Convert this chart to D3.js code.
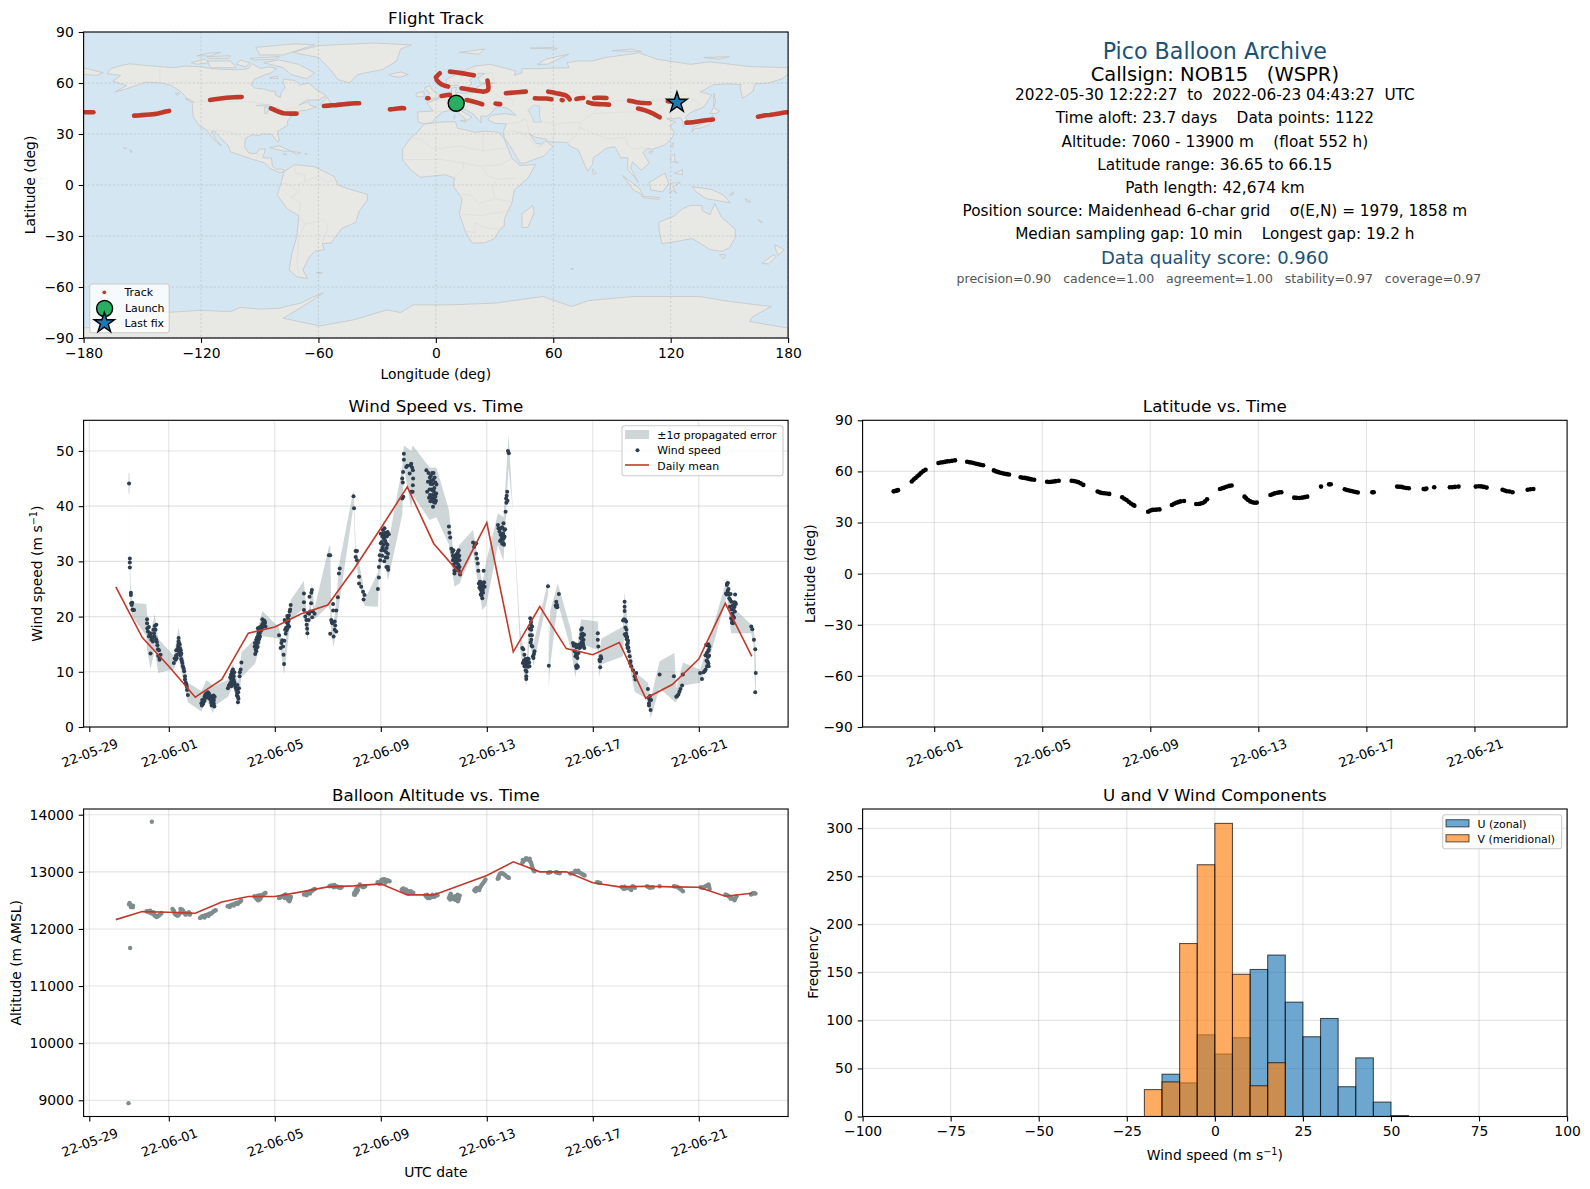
<!DOCTYPE html>
<html><head><meta charset="utf-8">
<script src="https://cdn.jsdelivr.net/npm/d3@7"></script>
<style>
html,body{margin:0;padding:0;background:#fff}
svg{display:block}
text{font-family:"DejaVu Sans",sans-serif;fill:#000;white-space:pre}
</style></head><body><div id="chart"></div>
<script>
// ---------- DATA ----------
const dateTickLabels = ["22-05-29","22-06-01","22-06-05","22-06-09","22-06-13","22-06-17","22-06-21"];
const lonTicks = [-180,-120,-60,0,60,120,180];
const latTicks = [-90,-60,-30,0,30,60,90];
const windTicks = [0,10,20,30,40,50];
const altTicks = [9000,10000,11000,12000,13000,14000];
const histXTicks = [-100,-75,-50,-25,0,25,50,75,100];
const histYTicks = [0,50,100,150,200,250,300];

const infoLines = [
 ["Pico Balloon Archive",22.2,"#1a5276",51,0],
 ["Callsign: NOB15   (WSPR)",19.5,"#000",73.5,0],
 ["2022-05-30 12:22:27  to  2022-06-23 04:43:27  UTC",15.3,"#000",94.5,0],
 ["Time aloft: 23.7 days    Data points: 1122",15.3,"#000",117.5,0],
 ["Altitude: 7060 - 13900 m    (float 552 h)",15.3,"#000",141,0],
 ["Latitude range: 36.65 to 66.15",15.3,"#000",164,0],
 ["Path length: 42,674 km",15.3,"#000",187,0],
 ["Position source: Maidenhead 6-char grid    σ(E,N) = 1979, 1858 m",15.3,"#000",210,0],
 ["Median sampling gap: 10 min    Longest gap: 19.2 h",15.3,"#000",233,0],
 ["Data quality score: 0.960",18,"#1a5276",257.5,0],
 ["precision=0.90   cadence=1.00   agreement=1.00   stability=0.97   coverage=0.97",12.5,"#555555",278,4]
];

// time values are days since 2022-05-29 00:00 UTC
const windPts = [
[1.50,44.1],[1.53,30.5],[1.53,29.8],[1.53,28.9],[1.57,24.3],[1.57,23.9],[1.58,22.4],[1.60,22.1],[1.62,22.5],[1.63,21.3],[1.65,21.2],[1.69,21.2],
[2.18,19.5],[2.18,18.8],[2.19,17.9],[2.25,18.1],[2.21,17.3],[2.30,17.0],[2.25,16.4],[2.34,15.8],[2.40,15.5],[2.31,13.3],[2.53,18.5],[2.47,18.3],[2.50,17.6],[2.44,17.0],[2.55,15.4],[2.59,14.1],[2.63,13.9],[2.60,12.9],[2.65,12.5],[2.69,13.1],[2.65,12.2],[2.28,16.8],[2.33,16.4],[2.37,16.0],[2.42,17.6],[2.46,16.4],[2.52,15.9],[2.57,14.8],
[3.19,11.6],[3.26,12.2],[3.31,13.1],[3.28,13.9],[3.35,14.5],[3.37,15.5],[3.37,16.1],[3.41,14.9],[3.45,13.9],[3.47,12.3],[3.51,11.6],[3.53,11.0],[3.58,10.1],[3.61,9.2],[3.61,8.6],[3.66,7.7],[3.69,6.7],[3.72,5.8],[3.33,14.0],[3.39,13.6],[3.43,14.2],[3.30,12.5],[3.49,12.0],[3.56,10.6],[3.64,8.0],[3.68,7.3],
[3.22,12.4],[3.27,12.9],[3.36,14.9],[3.40,15.1],[3.44,13.0],[3.47,13.3],
[4.23,4.3],[4.26,4.9],[4.35,5.5],[4.42,6.1],[4.52,6.0],[4.57,5.5],[4.64,4.9],[4.67,4.0],[4.73,5.5],[4.70,4.9],[4.29,4.7],[4.32,5.0],[4.38,5.9],[4.45,5.7],[4.48,6.3],[4.55,5.1],[4.60,4.4],[4.62,3.9],[4.66,5.3],[4.70,4.2],[4.72,3.7],[4.25,3.9],
[4.40,5.3],[4.50,5.3],[4.58,4.9],[4.30,4.2],[4.35,4.7],[4.63,5.6],[4.68,4.6],[4.69,5.7],
[5.23,7.0],[5.30,7.7],[5.36,8.6],[5.42,10.4],[5.45,9.2],[5.48,8.0],[5.55,6.7],[5.61,5.5],[5.65,7.0],[5.67,9.2],[5.71,10.4],[5.74,11.7],[5.27,7.5],[5.33,8.0],[5.39,9.1],[5.42,9.6],[5.44,8.6],[5.40,7.9],[5.36,7.4],[5.50,7.5],[5.58,6.2],[5.60,6.9],[5.63,5.1],[5.61,4.5],[5.68,9.9],
[5.32,9.0],[5.35,9.5],[5.38,10.0],[5.46,8.3],[5.47,9.9],[5.52,7.1],[5.57,5.7],[5.59,7.6],[5.62,6.3],
[6.26,13.2],[6.24,14.6],[6.30,15.8],[6.36,16.4],[6.43,17.0],[6.36,17.9],[6.49,18.2],[6.53,19.5],[6.62,18.8],[6.65,18.2],[6.28,14.1],[6.32,14.9],[6.34,15.5],[6.40,15.9],[6.38,16.9],[6.42,18.0],[6.47,17.4],[6.52,18.5],[6.56,18.9],[6.60,19.3],[6.30,13.7],[6.35,14.5],
[6.25,15.2],[6.29,14.4],[6.33,16.2],[6.37,15.3],[6.39,17.3],[6.41,16.2],[6.44,16.4],[6.46,18.0],[6.50,17.6],[6.55,18.1],[6.58,18.4],[6.63,19.0],
[7.16,16.6],[7.25,15.2],[7.22,14.3],[7.31,14.6],[7.33,13.1],[7.35,11.4],[7.41,16.9],[7.37,19.4],[7.50,18.5],[7.50,19.7],[7.56,20.9],[7.60,22.1],[7.28,15.7],[7.36,15.6],[7.43,18.0],[7.46,18.9],[7.53,20.2],[7.54,18.2],[7.58,21.3],[7.40,19.1],
[7.44,17.5],[7.47,17.8],[7.39,17.6],[7.47,20.1],[7.52,19.2],
[8.10,24.2],[8.10,22.6],[8.10,21.2],[8.19,19.4],[8.23,17.0],[8.25,20.6],[8.31,23.6],[8.40,24.8],[8.37,22.4],[8.44,20.9],[8.50,20.5],[8.15,20.0],[8.20,18.5],[8.22,17.8],[8.28,19.4],[8.30,20.5],[8.34,20.9],[8.38,24.3],[8.41,19.9],
[9.04,31.1],[9.09,31.1],[9.13,19.4],[9.17,18.8],[9.20,22.3],[9.20,21.1],[9.32,21.1],[9.26,19.1],[9.26,17.6],[9.09,16.9],[9.22,16.4],[9.32,17.3],[9.15,19.0],[9.28,18.4],
[9.38,23.5],[9.42,27.8],[9.45,28.7],[9.97,41.8],[9.99,39.6],[10.05,31.9],[10.10,31.9],[10.05,30.8],[10.10,30.2],[10.18,27.2],[10.18,26.0],[10.26,25.4],[10.33,24.5],[10.39,23.9],[10.35,23.1],
[10.89,25.0],[10.93,27.1],[10.93,29.0],[10.96,31.1],[11.02,32.0],[11.00,33.3],[11.08,35.7],[11.14,34.5],[11.20,33.3],[11.27,31.4],[11.27,29.0],[11.30,34.9],[11.04,33.5],[11.06,34.5],[11.10,33.0],[11.12,32.0],[11.14,36.0],[11.17,33.7],[11.20,31.7],[11.22,32.4],[11.24,30.7],[11.25,33.0],[11.28,28.5],[11.05,31.0],[11.10,35.0],
[10.98,30.2],[11.00,35.0],[11.07,32.5],[11.12,34.1],[11.15,35.0],[11.18,35.2],[11.18,30.7],[11.21,29.0],[11.23,34.5],[11.26,35.3],[11.13,30.0],
[11.81,41.4],[11.81,45.0],[11.84,46.2],[11.87,49.5],[11.87,48.4],[11.96,47.1],[12.00,47.3],[12.09,45.9],[12.15,47.7],[12.21,46.5],[12.21,43.8],[12.15,42.6],[11.83,44.3],[11.85,41.7],[12.18,47.0],[12.22,45.0],[12.12,47.4],[12.20,42.6],
[12.72,46.5],[12.78,44.4],[12.75,42.6],[12.85,45.2],[12.88,44.0],[12.92,43.0],[12.95,42.0],[12.98,44.8],[13.00,41.4],[13.02,43.3],[13.05,40.6],[13.07,42.2],[13.08,41.0],[13.10,43.9],[12.90,41.5],[12.94,46.0],[12.97,39.9],[13.03,45.2],[13.06,44.3],[12.84,43.0],[12.87,40.9],[13.00,42.7],
[12.80,46.0],[12.86,42.0],[12.89,45.5],[12.91,44.6],[12.93,41.0],[12.96,42.9],[12.99,46.0],[13.01,40.7],[13.04,42.0],[13.06,41.7],[13.09,42.3],[12.82,41.5],[12.86,44.5],[12.95,44.0],
[13.57,36.3],[13.59,35.2],[13.62,34.3],[13.66,32.3],[13.70,31.7],[13.72,30.2],[13.78,27.8],[13.91,31.7],[13.97,30.2],[13.97,29.0],[13.72,31.0],[13.75,29.4],[13.78,28.3],[13.80,30.0],[13.83,29.9],[13.86,30.6],[13.88,28.9],[13.90,30.3],[13.93,29.4],[13.95,28.3],[13.99,27.6],[13.76,30.6],
[13.74,32.0],[13.80,31.0],[13.82,28.9],[13.85,31.3],[13.87,29.7],[13.89,31.4],[13.92,30.8],[13.94,32.0],[13.96,31.0],[13.84,28.4],
[14.48,33.4],[14.60,33.3],[14.60,31.4],[14.66,29.6],[14.70,26.0],[14.79,24.8],[14.83,23.3],[14.92,25.4],[14.88,28.3],[14.52,32.6],[14.56,33.0],[14.63,30.5],[14.68,28.3],[14.72,25.2],[14.75,25.7],[14.77,24.0],[14.80,23.8],[14.85,24.8],[14.88,25.4],[14.90,26.2],[14.86,24.3],
[14.74,26.3],[14.76,25.0],[14.78,26.2],[14.81,24.5],[14.84,25.7],[14.87,26.0],[14.82,25.2],
[15.42,36.6],[15.48,35.4],[15.54,33.9],[15.63,36.9],[15.63,33.3],[15.67,34.5],[15.71,39.0],[15.73,41.4],[15.77,42.6],[15.80,50.0],[15.83,49.6],[15.50,33.7],[15.52,34.8],[15.57,34.4],[15.60,33.9],[15.62,35.0],[15.65,33.0],[15.69,35.8],[15.75,41.9],[15.78,41.0],[15.74,40.6],[15.44,36.0],
[15.53,36.0],[15.55,34.9],[15.58,33.2],[15.61,34.7],[15.64,34.2],[15.66,35.7],[15.58,36.2],
[16.34,14.3],[16.36,11.6],[16.42,13.1],[16.42,11.0],[16.49,9.2],[16.55,11.6],[16.61,11.0],[16.64,19.7],[16.68,17.6],[16.68,15.8],[16.74,12.8],[16.80,13.7],[16.38,14.1],[16.40,12.0],[16.44,11.7],[16.46,12.3],[16.47,10.3],[16.50,10.0],[16.52,11.0],[16.58,12.3],[16.62,17.8],[16.66,18.5],[16.70,16.6],[16.72,14.6],[16.76,12.5],[16.78,13.2],[16.49,8.7],
[16.41,11.9],[16.45,11.3],[16.48,11.9],[16.51,12.2],[16.54,12.4],[16.56,10.9],[16.60,11.7],[16.63,16.6],[16.65,15.3],[16.67,19.0],[16.71,18.2],[16.69,14.7],
[17.31,25.5],[17.34,11.1],[17.62,22.7],[17.62,21.8],[17.72,24.1],[17.65,22.1],[17.60,22.0],[17.66,21.7],
[18.25,15.2],[18.31,13.7],[18.37,11.0],[18.40,11.2],[18.56,17.6],[18.60,16.4],[18.63,15.2],[18.40,13.1],[18.68,14.3],[18.28,14.7],[18.34,15.0],[18.37,13.2],[18.44,10.9],[18.50,14.3],[18.52,15.0],[18.54,16.1],[18.58,15.4],[18.62,16.9],[18.65,15.8],[18.67,16.7],[18.47,14.9],
[18.30,14.9],[18.35,12.8],[18.38,14.4],[18.42,12.5],[18.46,13.4],[18.39,10.7],[18.55,14.5],[18.57,16.8],[18.61,15.9],[18.64,14.8],[18.59,17.9],
[19.19,17.0],[19.19,15.8],[19.21,14.6],[19.25,12.2],[19.28,10.8],[19.32,12.4],[19.27,11.9],[19.30,12.8],
[20.20,22.7],[20.20,21.8],[20.14,19.3],[20.26,19.1],[20.26,16.9],[20.32,15.2],[20.39,12.8],[20.45,11.0],[20.52,10.3],[20.61,8.6],[20.64,9.8],[20.18,19.5],[20.22,19.4],[20.20,21.0],[20.28,15.9],[20.30,16.3],[20.34,14.4],[20.36,13.7],[20.42,11.9],[20.21,16.8],[20.58,9.2],
[20.23,18.0],[20.24,16.5],[20.27,17.6],[20.29,14.9],[20.31,14.3],[20.33,15.6],[20.40,11.6],
[21.08,6.9],[21.12,4.3],[21.20,4.9],[21.18,3.1],[21.14,4.9],[21.10,5.3],[21.16,5.6],[21.12,3.9],
[21.52,9.5],[22.06,9.2],[22.15,5.5],[22.27,6.4],[22.40,9.5],[22.37,7.5],[22.19,5.6],[22.23,5.9],[22.31,6.9],
[23.05,9.8],[23.12,8.7],[23.22,10.1],[23.31,11.0],[23.38,14.0],[23.34,12.7],[23.28,14.9],[23.36,15.0],[23.40,14.6],[23.30,13.4],[23.33,11.9],[23.18,9.9],[23.26,10.4],[23.36,11.5],
[23.25,13.0],[23.29,12.0],[23.32,14.8],[23.35,13.7],[23.37,11.0],[23.39,12.9],
[24.07,26.0],[24.03,24.2],[24.14,24.0],[24.19,23.0],[24.22,19.7],[24.29,18.8],[24.35,21.8],[24.37,24.0],[24.05,24.0],[24.10,24.3],[24.17,21.8],[24.24,21.3],[24.27,20.5],[24.31,21.4],[24.33,19.8],[24.25,18.9],[24.40,22.3],[24.10,26.1],
[24.06,25.7],[24.09,24.7],[24.12,25.0],[24.15,23.3],[24.20,24.1],[24.23,22.7],[24.26,19.4],[24.28,22.0],[24.30,20.0],[24.34,22.6],[24.38,22.5],[24.36,20.9],
[24.98,18.2],[25.02,17.7],[25.08,15.8],[25.13,14.1],[25.15,9.8],[25.13,6.3]
];

const bandT  = [1.48,1.52,1.53,1.56,1.62,2.15,2.18,2.31,2.47,2.60,3.19,3.37,3.72,4.23,4.42,4.67,4.73,5.23,5.42,5.61,5.74,6.26,6.53,7.16,7.35,7.60,8.10,8.23,8.40,8.50,9.04,9.09,9.13,9.22,9.45,9.97,9.99,10.05,10.33,10.39,10.89,10.93,11.10,11.27,11.81,11.87,12.15,12.21,12.84,13.10,13.57,13.78,13.97,14.48,14.83,14.98,15.42,15.63,15.82,15.99,16.26,16.49,16.62,16.76,17.31,17.34,17.39,17.68,18.18,18.34,18.56,19.19,19.25,19.32,20.14,20.20,20.39,20.58,21.08,21.18,21.52,22.08,22.15,22.40,23.05,23.38,24.07,24.22,24.98,25.08,25.13,25.16];
const bandLo = [42,42.5,27,22,20,16.5,14,10.5,14,9.8,10.5,12.5,4.5,2.8,5,2.5,3.8,5.5,7.5,3.7,9,11.5,16.5,16,9.5,19.5,21.5,15.5,23,19.5,22,21,17,14.5,23,40,38,30,23,21.9,21.8,27,32,26.5,38.5,47,39.5,42,37.5,38,33,25.4,26,31.7,21.2,22,33,30,47,39,14,7.3,16,11,24,7,11,22.5,14,9,15,14,9,11.3,12.8,19,11,6.4,5,1.6,7,4.6,4.5,7.5,8,12,24,17,17,14.5,5,8.5];
const bandHi = [46,45.9,32,26,22.5,22.3,20.5,17,20.5,16,12.9,18,8,6.5,8.5,7.5,7.5,8.5,11.5,8,13.5,16,21,18,13.5,23,26.5,18.5,26,21.5,32.6,33,21,18,30,43,41,33,26,23,28,31,37.5,33,47,51,50,51,47,47,39.3,30,33,35.7,26,30,38.7,38,53,39,17.6,11,20.5,15,26.5,13,21,26,17.5,12.5,19.5,19.1,13,16,18.2,24.5,15,10,8,5,11.9,13.4,7,11.7,10.4,15.5,27,22,18.5,17.6,15,11];

const meanT = [1,2,3,4,5,6,7,8,9,10,11,12,13,14,15,16,17,18,19,20,21,22,23,24,25];
const windMean = [25.4,16.2,11,5.4,8.6,17,18.1,20.5,22.1,28.7,36,43.5,33.2,27.7,37,13.6,21.8,14.2,13.1,15.3,5.2,7.7,12.3,22.4,12.8];
const altMean = [12163,12304,12292,12274,12473,12567,12567,12649,12736,12754,12789,12596,12596,12766,12935,13175,13000,13000,12807,12736,12748,12736,12730,12573,12625];

const altPts = [
[1.48,8950],[1.54,11666],[2.36,13877],
[1.52,12456],[1.55,12426],[1.59,12397],[1.64,12380],[1.65,12409],[1.50,12430],[1.57,12385],[1.61,12400],
[2.16,12309],[2.24,12309],[2.33,12280],[2.41,12292],[2.50,12233],[2.58,12222],[2.67,12251],[2.72,12280],[2.20,12300],[2.28,12290],[2.37,12270],[2.45,12260],[2.54,12210],[2.62,12235],[2.70,12265],[2.46,12235],[2.30,12320],
[3.14,12350],[3.20,12309],[3.25,12251],[3.34,12233],[3.42,12280],[3.51,12339],[3.59,12280],[3.68,12268],[3.76,12292],[3.81,12268],[3.17,12330],[3.22,12270],[3.30,12240],[3.38,12250],[3.46,12310],[3.55,12310],[3.63,12250],[3.72,12280],[3.79,12250],[3.44,12350],[3.52,12290],
[4.18,12192],[4.26,12222],[4.35,12233],[4.43,12245],[4.52,12263],[4.60,12268],[4.69,12309],[4.77,12327],[4.22,12205],[4.30,12225],[4.39,12240],[4.47,12250],[4.56,12270],[4.65,12290],[4.73,12320],[4.35,12200],[4.50,12230],
[5.22,12397],[5.32,12409],[5.39,12426],[5.49,12438],[5.56,12456],[5.66,12467],[5.73,12497],[5.27,12400],[5.35,12420],[5.44,12430],[5.52,12445],[5.61,12460],[5.70,12480],[5.30,12385],[5.45,12410],[5.60,12435],
[6.23,12573],[6.30,12543],[6.37,12502],[6.45,12526],[6.50,12573],[6.57,12602],[6.65,12631],[6.26,12560],[6.33,12520],[6.41,12510],[6.47,12550],[6.53,12590],[6.61,12620],[6.35,12580],[6.44,12590],
[7.16,12543],[7.24,12561],[7.34,12584],[7.41,12602],[7.46,12543],[7.55,12485],[7.61,12561],[7.20,12550],[7.29,12570],[7.37,12595],[7.44,12570],[7.50,12510],[7.58,12520],[7.38,12540],[7.52,12560],
[8.10,12602],[8.19,12619],[8.27,12643],[8.36,12660],[8.42,12672],[8.51,12701],[8.14,12610],[8.23,12630],[8.31,12650],[8.39,12670],[8.47,12690],[8.20,12590],[8.33,12620],
[9.06,12748],[9.15,12760],[9.23,12731],[9.31,12748],[9.40,12731],[9.48,12719],[9.10,12755],[9.19,12745],[9.27,12740],[9.35,12740],[9.44,12725],[9.52,12730],[9.25,12770],
[9.99,12602],[10.04,12660],[10.11,12719],[10.21,12777],[10.27,12748],[10.34,12731],[10.41,12748],[10.00,12630],[10.07,12690],[10.16,12750],[10.24,12760],[10.31,12740],[10.37,12740],[10.03,12600],[10.09,12640],[10.14,12680],
[10.88,12818],[10.95,12789],[11.02,12853],[11.08,12865],[11.17,12807],[11.25,12853],[11.33,12836],[10.92,12805],[10.98,12820],[11.05,12860],[11.12,12840],[11.21,12830],[11.29,12845],[11.00,12790],[11.15,12870],
[11.79,12690],[11.89,12660],[11.97,12643],[12.06,12619],[12.13,12660],[12.23,12631],[11.84,12675],[11.93,12650],[12.01,12630],[12.10,12640],[12.18,12645],[11.85,12710],[11.95,12690],[12.02,12665],
[12.68,12590],[12.77,12543],[12.85,12543],[12.93,12573],[13.02,12561],[13.10,12602],[12.72,12565],[12.81,12540],[12.89,12560],[12.97,12565],[13.06,12580],[12.75,12600],[12.95,12600],[13.14,12590],
[13.57,12543],[13.64,12619],[13.74,12526],[13.81,12573],[13.91,12485],[13.98,12584],[13.60,12580],[13.69,12570],[13.78,12550],[13.86,12530],[13.95,12530],[13.62,12515],[13.80,12510],[13.90,12600],
[14.53,12678],[14.62,12719],[14.70,12707],[14.79,12760],[14.87,12807],[14.95,12865],[14.57,12700],[14.66,12710],[14.75,12730],[14.83,12785],[14.91,12835],[14.58,12660],[14.72,12680],
[15.41,12877],[15.48,12953],[15.56,12982],[15.66,12953],[15.76,12912],[15.83,12894],[15.44,12915],[15.52,12970],[15.61,12970],[15.71,12935],[15.80,12905],[15.45,12890],
[16.34,13158],[16.42,13204],[16.52,13228],[16.60,13204],[16.67,13158],[16.72,13070],[16.77,13023],[16.38,13180],[16.47,13215],[16.56,13220],[16.64,13180],[16.70,13115],[16.75,13045],[16.36,13210],[16.48,13240],[16.62,13230],[16.80,13010],
[17.31,12982],[17.40,12994],[17.61,12994],[17.68,12982],[17.35,12990],[17.65,12990],[17.75,12975],
[18.15,12970],[18.29,12982],[18.40,13011],[18.52,12982],[18.63,12953],[18.69,12935],[18.22,12975],[18.35,12995],[18.46,12995],[18.58,12965],[18.66,12945],[18.34,13020],[18.45,13020],
[19.16,12818],[19.28,12807],[19.22,12812],
[20.09,12736],[20.17,12701],[20.31,12719],[20.43,12707],[20.51,12748],[20.59,12719],[20.13,12720],[20.24,12710],[20.37,12712],[20.47,12730],[20.55,12735],[20.20,12740],[20.45,12680],
[21.05,12748],[21.15,12719],[21.27,12731],[21.52,12748],[21.10,12735],[21.21,12725],
[22.06,12748],[22.19,12736],[22.28,12707],[22.40,12660],[22.12,12745],[22.24,12720],[22.34,12685],
[23.07,12731],[23.17,12719],[23.25,12748],[23.37,12777],[23.41,12701],[23.12,12725],[23.21,12735],[23.31,12760],[23.39,12740],
[24.01,12602],[24.13,12573],[24.25,12543],[24.35,12502],[24.42,12573],[24.07,12590],[24.19,12560],[24.30,12525],[24.38,12535],[24.20,12530],
[24.97,12602],[25.06,12631],[25.14,12619],[25.02,12615],[25.10,12625]
];

const latPts = [
[1.50,48.3],[1.55,48.5],[1.60,48.7],[1.66,49.0],
[2.17,54.1],[2.24,55.2],[2.31,56.1],[2.38,57.2],[2.45,58.1],[2.52,59.2],[2.60,60.2],[2.68,61.0],
[3.16,64.9],[3.24,65.2],[3.32,65.4],[3.40,65.6],[3.48,65.9],[3.56,66.0],[3.66,66.2],[3.77,66.5],
[4.22,65.7],[4.30,65.4],[4.38,65.2],[4.46,64.9],[4.55,64.5],[4.63,64.2],[4.72,63.9],[4.81,63.6],
[5.21,60.6],[5.29,60.0],[5.37,59.6],[5.45,59.2],[5.53,58.9],[5.61,58.6],[5.69,58.4],[5.77,58.2],
[6.20,56.6],[6.28,56.3],[6.36,56.2],[6.44,55.9],[6.52,55.6],[6.60,55.3],[6.70,55.1],
[7.18,53.9],[7.26,53.8],[7.34,53.9],[7.42,54.1],[7.50,54.3],[7.61,54.5],
[8.09,54.5],[8.17,54.4],[8.25,54.1],[8.33,53.7],[8.42,53.0],[8.52,52.1],
[9.05,48.2],[9.13,47.7],[9.21,47.3],[9.29,47.2],[9.38,47.0],[9.48,46.8],
[9.96,44.8],[10.04,44.0],[10.12,43.2],[10.20,42.2],[10.28,41.2],[10.36,40.4],[10.41,39.9],
[10.92,36.3],[11.00,37.0],[11.08,37.4],[11.16,37.5],[11.24,37.6],[11.34,37.7],
[11.80,40.3],[11.88,41.0],[11.96,41.6],[12.04,42.0],[12.12,42.4],[12.25,42.6],
[12.70,40.9],[12.78,40.9],[12.86,41.1],[12.94,41.5],[13.02,42.3],[13.10,43.6],
[13.58,49.7],[13.66,50.1],[13.74,50.5],[13.82,51.0],[13.92,51.5],[14.01,51.7],
[14.49,45.2],[14.55,44.2],[14.62,43.2],[14.70,42.4],[14.78,41.9],[14.86,41.6],[14.94,41.7],
[15.45,46.2],[15.52,46.6],[15.60,47.1],[15.70,47.5],[15.78,47.7],[15.85,47.8],
[16.33,44.6],[16.42,44.5],[16.52,44.4],[16.62,44.6],[16.72,44.9],[16.81,45.2],
[17.32,51.1],[17.62,52.4],[17.68,52.5],
[18.20,49.5],[18.28,49.1],[18.36,48.8],[18.44,48.5],[18.52,48.2],[18.60,47.9],[18.68,47.6],
[19.22,47.8],[19.27,47.8],
[20.14,51.1],[20.22,51.0],[20.30,50.9],[20.38,50.6],[20.48,50.3],[20.57,50.1],
[21.12,49.7],[21.17,49.6],[21.22,50.0],[21.51,50.7],
[22.09,50.7],[22.18,50.7],[22.28,50.9],[22.41,51.1],
[23.05,51.1],[23.15,51.3],[23.25,51.2],[23.35,50.9],[23.45,50.5],
[24.04,49.2],[24.12,48.8],[24.20,48.4],[24.30,48.2],[24.41,47.8],
[24.97,49.2],[25.07,49.5],[25.18,49.7]
];

const trackSegments = [
[[-179.2,42.8],[-177.5,42.8],[-175,42.8]],
[[-154.2,40.8],[-152,40.9],[-150,41.1],[-148,41.3],[-146,41.5],[-144,41.7],[-142,42.1],[-140,42.6],[-138,43.2],[-136.3,43.6]],
[[-115.4,50],[-113,50.4],[-111,50.7],[-109,51],[-107,51.3],[-105,51.5],[-103,51.6],[-101,51.7],[-99.2,51.8]],
[[-84.3,45.1],[-82.5,44.2],[-81,43.4],[-79.5,42.8],[-78,42.2],[-76,42.1],[-74,42],[-71.2,42]],
[[-57.2,46.5],[-55,46.7],[-53,46.9],[-51,47],[-49,47.3],[-47,47.5],[-45,47.7],[-43,47.9],[-41,48.1],[-39.2,48.1]],
[[-23.5,44.5],[-21.5,44.7],[-19.5,45],[-17.5,45.2],[-16.2,45.1]],
[[-4.4,51],[-3.8,51]],
[[2.9,52.4],[4.5,52.7],[6,52.9],[7.2,53]],
[[0,63.3],[1,64.6],[2,65.7]],
[[0.4,61.8],[1.5,60.4],[2.9,59.2],[4.5,58.4],[6.3,57.9]],
[[7.2,66.7],[9,66.5],[11,66.2],[13,65.8],[15,65.4],[17,65],[19.4,64.5]],
[[13.1,56.9],[15,56.6],[17,56.2],[19,55.8],[21,55.4],[23,55.1],[24.2,54.9],[25.8,55.3],[26.7,55.9],[26.9,57.5],[26.7,59.5],[26.4,61.4]],
[[15.7,50],[17.5,49.6],[19.5,49],[21.5,48.3],[23.7,47.5]],
[[30.5,47.9],[31.5,47.7],[32.9,47.6]],
[[35.8,54],[38,54.2],[40,54.4],[42,54.6],[44,54.8],[46,54.9]],
[[50.6,51],[52.5,50.9],[54.5,50.9],[56.5,50.9],[59.1,50.4]],
[[57.4,54.9],[59.5,54.5],[61.5,54],[63.5,53.6],[65.9,53],[67.5,51.8],[68.4,50.4]],
[[64.3,50],[64.8,49.9]],
[[71.8,50.6],[73.5,51],[75.3,51.2]],
[[77.8,48.6],[79.5,48],[81.5,47.7],[83.5,47.6],[85.5,47.5],[88.5,47.3]],
[[80.9,51.2],[82.5,51.3],[84.5,51.3],[87.2,51.2]],
[[98.7,49.6],[100.5,49.2],[102.5,48.7],[104.5,48.4],[106.5,48.2],[109.3,48.1]],
[[103.3,45],[105,44.6],[107,43.9],[109,43],[111,42],[112.5,41],[114.4,39.8]],
[[118.5,49.3],[120,49.2],[121.5,49]],
[[128,36.7],[130,36.8],[132,37],[134,37.4],[136,37.8],[138,38.1],[141.6,38.5]],
[[164.6,40.2],[166.5,40.6],[168.5,41],[170.5,41.2],[173,41.6],[175.5,42.1],[178,42.6],[180,42.8]]
];
const launch = [10.4,48.1];
const lastFix = [123.2,49];

const binEdges = [-20,-15,-10,-5,0,5,10,15,20,25,30,35,40,45,50,55];
const uCounts = [0,44,35,85,65,82,153,168,119,83,102,31,61,15,1];
const vCounts = [28,36,180,262,305,148,32,56,0,0,0,0,0,0,0];

// Map outlines, [lon,lat]
const landPolys = [
[[-166,68.5],[-162,70],[-156.5,71.3],[-150,70.5],[-141,69.7],[-134,69],[-128,70],[-120,69.5],[-115,68.5],[-108,68],[-102,67.8],[-96,68.3],[-94,71.5],[-90,68.5],[-85,69.5],[-81.5,68.5],[-84,66],[-87,65],[-93,62],[-94.5,59],[-92.5,57],[-88,56.5],[-85,55.3],[-82,55],[-82,53],[-79.5,51.5],[-79,54.5],[-77,57],[-78,60],[-78,62.3],[-72,61.5],[-69.5,58.8],[-65,60],[-61.5,56.5],[-56,52.5],[-60,50],[-66,50],[-70,47],[-65,49],[-64.5,47],[-61,46],[-66,44],[-70,43.5],[-70,41.7],[-74,40.5],[-76,37],[-75.5,35.3],[-81,31.5],[-80,26],[-81,25.2],[-82.7,28],[-84,30],[-89,30],[-90,29.2],[-94,29.5],[-97.3,27.5],[-97.8,22.5],[-95.5,18.7],[-91.5,18.5],[-90.5,21],[-87,21.3],[-88.5,16],[-84,15.8],[-83.5,11],[-81,9],[-79.5,9.5],[-77.3,8.7],[-78.3,7.5],[-80.5,7.5],[-85,10],[-87.5,13],[-92,14.5],[-96,16],[-105,19.5],[-106,23],[-109,26.5],[-113,31.5],[-114.7,31.5],[-112.5,27],[-109.5,23],[-112,25],[-115,29],[-117.2,32.5],[-120.5,34.5],[-124,40],[-124.5,48],[-127,51],[-130,54.5],[-135,58.5],[-140,60],[-148,60.5],[-152,59],[-158,56.5],[-164,54.7],[-158,58.5],[-165,61],[-161,64.5],[-168,65.5]],
[[-73,78],[-60,82],[-32,83.5],[-12.4,82.4],[-18,80],[-20,73],[-27,68],[-40,65],[-44,60],[-50,62],[-54,68],[-60,75]],
[[-80,73.5],[-70,71],[-62,66],[-66,62.5],[-74,65],[-78,69],[-88,72]],
[[-117,73],[-105,73],[-102,69],[-115,69]],
[[-125,72],[-118,74],[-116,72],[-122,71]],
[[-90,76.5],[-92,81],[-72,83],[-62,82.5],[-78,76.5]],
[[-95,74.5],[-80,75.5],[-82,74],[-93,73.5]],
[[-117,75.5],[-105,76],[-106,74.6],[-116,74.5]],
[[-100,73.5],[-95,72],[-97,69.5],[-102,71]],
[[-122,76],[-116,77.5],[-110,78],[-115,76]],
[[-59,47.6],[-53,46.8],[-55.5,51.5]],
[[-85,63],[-81,64],[-80.5,62.5]],
[[-133,54],[-131,54],[-132,52.5]],
[[-128,50.7],[-125,50],[-123.5,48.5],[-125.5,49]],
[[-159.7,22],[-158,21.5],[-158.5,21]],
[[-156.5,20.8],[-155,19.7],[-155.8,19]],
[[-77.5,8],[-72,12],[-62,10.7],[-52,5],[-50,0],[-44,-2.5],[-35,-5.5],[-35,-9],[-39,-15],[-41,-22],[-48,-25.5],[-53.5,-34],[-58,-34.5],[-57,-38],[-62,-39],[-65,-43],[-68,-50],[-65.5,-55],[-71,-54],[-75,-50],[-73.5,-40],[-71,-30],[-70,-18],[-76,-14],[-81,-6],[-80,-2],[-79,1.5]],
[[-61,-51.5],[-58,-51.5],[-59,-52.3]],
[[-17,15],[-17,21],[-13,27.5],[-9.5,31],[-6,35.8],[3,37],[10,37.3],[11,33.5],[20,31],[25,31.7],[32,31],[34.5,28],[37,21],[39,15.5],[43,11.5],[51,12],[47,4],[40,-3],[39,-10],[35,-20],[35,-24],[32.8,-26],[30,-31.5],[25,-34],[18.5,-34.2],[15,-27],[12,-17],[13.5,-8],[9,-1],[9.5,4],[5,6],[-4,5],[-8,4.5],[-13,9]],
[[49.5,-12],[50.3,-16],[47,-25],[44,-25],[44,-17]],
[[-9,37],[-9.3,43],[-1.5,43.5],[-4.5,48.3],[2,51],[8,54],[8.2,57],[10.5,57.5],[10,54.5],[14,54],[19,54.5],[21,57.5],[24,59.3],[30,60],[23,60],[21.5,63],[25,65.5],[22,65.8],[17,61.5],[18.5,60],[15,56],[12.7,56],[11,59],[6,58],[5,62],[13,66.5],[20,70],[28,71],[41,67],[40,64.5],[44,66],[44,68.5],[54,68.5],[68,69],[67,72],[73,73],[80,73],[87,75],[104,77.7],[113,74],[130,71],[140,72.5],[160,69.7],[180,69],[180,65],[177,62.5],[170,60],[163,59.5],[162,55],[156.8,51],[155.5,57],[156,59],[150,59.5],[142,59],[135,54.7],[141,53],[137,46],[130,42.5],[127.5,39.8],[129.3,37],[126.5,34.5],[126,37.5],[125,39.7],[121.5,39],[118,39],[122.5,37],[119.5,35],[121.9,31],[121,28],[117,23.5],[110.5,21],[108,21.5],[105.8,19],[109,13],[105,8.7],[100.5,13.5],[99.5,10],[103.5,1.5],[100.5,6],[98,9],[98,16],[94.5,16],[91.5,22.5],[87,21.5],[80.5,16],[80,12],[77.5,8],[73,20],[72.5,21],[69,22.5],[67,25],[57,25.5],[56.5,27],[51,28],[48,30],[50,26.5],[51.5,24.5],[54,24],[56.3,26],[59.8,22.5],[55,17],[45,12.8],[43,13],[39,21],[35,28],[34.3,31],[36,36],[30,36.3],[26.5,38.5],[28.5,41],[35,42],[41,41],[37,45],[33.5,46],[31,46],[28,42],[26,40.5],[23,40.5],[23,36.5],[19.5,41.5],[14,45],[12.5,44],[18.5,40],[16,38],[12.5,41.5],[9,44.2],[3.5,43],[0,39.5],[-2,36.8],[-5.5,36]],
[[-180,65],[-180,69],[-170,66],[-173,64.5]],
[[-5,50],[1.5,51.5],[1.5,52.8],[-2,56],[-3,58.5],[-6,57],[-3,54],[-5,52]],
[[-10,52],[-6,52],[-6,55],[-10,54]],
[[-24,65],[-18,66.5],[-14,65],[-18,63.4],[-22.5,64]],
[[12,78],[25,80],[22,77]],
[[48,80.5],[60,81],[62,80]],
[[52,71],[56,74],[68,77],[57,71]],
[[90,79],[100,80],[105,78.5]],
[[137,75],[150,75.5],[145,74]],
[[142,54],[143,49],[142,46],[142,50]],
[[130.8,31],[131.5,34],[136,36],[140,38],[141.5,41],[141.5,39],[140,35.5],[136,33.7],[132,33]],
[[140,42],[142,45.5],[145,43.5],[143,42]],
[[120,23],[121.5,25],[121,22]],
[[108.7,19.3],[110.8,20],[110,18.3]],
[[120,16],[122,18.5],[122,14],[124,13],[120,14]],
[[122,7],[126,9],[126,6]],
[[95.5,5.5],[104,-2],[106,-6],[101,-3]],
[[105,-6.5],[114.5,-7.5],[114,-8.5],[106,-7.5]],
[[109,1.5],[117,7],[119,1],[116,-4],[110,-3]],
[[119.5,-5],[120,1],[125,1.5],[121,-1],[123,-5],[121,-3]],
[[131,-1],[141,-2.6],[147,-6],[150.5,-10.5],[143,-9],[138,-8],[133,-4]],
[[152,-4],[150,-6],[152,-5.5]],
[[158,-8],[161,-10],[159,-10]],
[[164.6,-20.2],[167,-22],[166,-22]],
[[69,-49],[70.5,-49.2],[69.5,-49.8]],
[[80,9.5],[82,7],[80.5,6]],
[[114,-22],[122,-18],[126,-14],[130,-12],[136,-12],[136,-15],[140,-17.5],[142.5,-11],[146,-19],[153,-26],[153,-31],[150,-37],[146,-39],[140,-38],[136,-35],[131,-31.5],[124,-33],[115.5,-34.5],[114,-26]],
[[145,-41],[148,-41],[147,-43.5]],
[[173,-35],[178,-38],[175,-41.5],[174,-39]],
[[172.5,-41],[174,-42],[170,-46.5],[166.7,-46]],
[[-85,22],[-80,23],[-74,20],[-78,20]],
[[-74,19.8],[-69,19],[-71,18]],
[[-78,18.4],[-76.3,18],[-77.5,17.8]],
[[-67,18.4],[-65.6,18.3],[-66.5,18]],
[[9,39],[9.8,41],[9.5,39]],
[[12.5,38],[15.5,38],[15,36.8]],
[[-180,-90],[-180,-84.2],[-165,-82],[-150,-77.5],[-145,-75.5],[-120,-73.7],[-105,-74.5],[-100,-72],[-90,-73],[-80,-72.5],[-75,-71],[-69,-69.5],[-63,-66],[-57.5,-63.5],[-62,-67],[-66,-70],[-78,-78.4],[-59.2,-82.9],[-42,-79.3],[-25,-73.5],[-18,-75],[-11.6,-70.5],[7.1,-70.5],[30,-69.5],[54.8,-65.6],[69.3,-71.5],[78,-68],[100.7,-65.6],[134.8,-65.6],[150,-68.5],[171.4,-71.5],[162,-77.4],[160.3,-80.3],[180,-84.2],[180,-90]]
];
const lakePolys = [
[[50,47],[53,46.5],[53,40],[54,37],[50,37],[49,40.5],[47,44]],
[[-92,46.7],[-85,47.5],[-85,46.5],[-88,46.5]],
[[-87.5,46],[-85,46],[-86,42],[-87.5,42]],
[[-84,46],[-80,45],[-82,43],[-84,44]]
];
const borderLines = [
[[-141,69.7],[-141,60]],
[[-123,49],[-95,49],[-89,48],[-83,46],[-82.5,42],[-79,43],[-75,45],[-70,46],[-67,45]],
[[-117,32.5],[-106,31.7],[-101,29.5],[-97.3,26]],
[[-92,14.5],[-91,17.5],[-89,18]],
[[-70,-18],[-69,-11],[-74,-7],[-70,-4],[-70,1],[-67,2],[-60,5]],
[[-70,-18],[-67,-23],[-70,-32],[-71,-45],[-70,-52]],
[[-67,-23],[-62,-22],[-58,-20],[-55,-24],[-58,-34]],
[[-79,1.5],[-75,0],[-70,-4]],
[[-72,12],[-72,7],[-67,6],[-67,2]],
[[-60,8],[-60,5],[-56,2],[-52,2.5]],
[[-13,27.5],[-8.7,27.5],[-1,21],[12,23],[24,20],[24,31]],
[[24,20],[36.9,22]],
[[-17,15],[-12,15],[-5,15],[3,15],[14,13],[23,11],[33,12],[38,15]],
[[9.5,4],[14,10],[14,13]],
[[23,11],[27,5],[31,3.5],[41,4]],
[[12,-5],[18,-6],[22,-11],[30,-8],[39,-10]],
[[12,-17],[23,-18],[33,-16],[40,-15]],
[[15,-27],[20,-28],[20,-22],[25,-25],[32,-26]],
[[30,-8],[29,-1],[31,3.5]],
[[-1.5,43.5],[3.5,43]],
[[2,51],[6,49],[8,48],[7.5,44]],
[[14,54],[15,51],[19,49.5],[24,48],[28,45.5],[29,45]],
[[14,45],[17,47],[22,48]],
[[24,59.3],[28,56],[24,54],[19,54.5]],
[[28,56],[32,52],[40,50],[39,47]],
[[47,50],[60,51],[70,55],[77,53],[87,49],[98,50],[107,50],[117,50],[127,53],[135,48],[131,43]],
[[87,49],[80,42],[74,37],[61,36],[54,37.5]],
[[80,42],[97,43],[111,43],[117,47]],
[[74,37],[73,34],[78,32],[81,30],[88,27],[97,28],[98,24],[101,21],[106,22],[108,21.5]],
[[67,25],[71,28],[74,34]],
[[61,36],[61,30],[57,25.5]],
[[36,36],[42,37],[46,39],[48,30]],
[[39,32],[48,30]],
[[34.3,31],[39,32],[46,29],[52,22],[56,24]],
[[5,62],[12,60],[14,65],[20,69]],
[[25,65.5],[29,66],[30,60]]
];

// ---------- LAYOUT ----------
const W = 1590, H = 1189;
const colL = 83.6, colR = 862.6, axW = 704.5;
const row1 = [32,338], row2 = [420.3,727], row3 = [809,1116.5];
const C = {track:"#c0392b", launch:"#27ae60", star:"#1f77b4", wind:"#2c3e50", alt:"#7f8c8d", band:"#95a5a6",
           ocean:"#d4e6f1", land:"#e8e8e4", coast:"#c4c6c8", border:"#dcdcda", grid:"#b0b0b0",
           u:"#1f77b4", v:"#ff7f0e"};
const FS = 13.9, FSD = 13;
const svg = d3.select("#chart").append("svg").attr("width",W).attr("height",H).attr("viewBox",`0 0 ${W} ${H}`);
const t0 = Date.UTC(2022,4,29);
const dayToDate = d => new Date(t0 + d*864e5);
const parseTick = d3.utcParse("%y-%m-%d"), fmtTick = d3.utcFormat("%y-%m-%d");
const dateTicks = dateTickLabels.map(parseTick);
const xDomain = [dayToDate(-0.215), dayToDate(26.37)];
const latDomain = [dayToDate(0.35), dayToDate(26.43)];
const minus = s => String(s).replace("-", "\u2212");

function panel(left, rowY, xScale, yScale, xTicks, yTicks, xFmt, id){
  const g = svg.append("g").attr("transform",`translate(${left},${rowY[0]})`);
  const h = rowY[1]-rowY[0];
  g.append("clipPath").attr("id",id).append("rect").attr("width",axW).attr("height",h);
  const under = g.append("g");
  const grid = g.append("g");
  const body = g.append("g").attr("clip-path",`url(#${id})`);
  const top = g.append("g");
  return {g,under,grid,body,top,h,
    finish(opts={}){
      if(!opts.noGrid){
        grid.append("g").selectAll("line").data(xTicks).join("line").attr("x1",d=>xScale(d)).attr("x2",d=>xScale(d)).attr("y1",0).attr("y2",h)
            .attr("stroke",C.grid).attr("stroke-opacity",.35).attr("stroke-width",1.1);
        grid.append("g").selectAll("line").data(yTicks).join("line").attr("x1",0).attr("x2",axW).attr("y1",d=>yScale(d)).attr("y2",d=>yScale(d))
            .attr("stroke",C.grid).attr("stroke-opacity",.35).attr("stroke-width",1.1);
      }
      const ax = g.append("g").attr("transform",`translate(0,${h})`)
        .call(d3.axisBottom(xScale).tickValues(xTicks).tickSize(4.9).tickPadding(4.9).tickFormat(xFmt));
      const ay = g.append("g").call(d3.axisLeft(yScale).tickValues(yTicks).tickSize(4.9).tickPadding(4.9).tickFormat(minus));
      [ax,ay].forEach(a=>{a.select(".domain").remove();
        a.selectAll("line").attr("stroke","#000").attr("stroke-width",1.1);
        a.selectAll("text").attr("font-size",FS).attr("font-family",'"DejaVu Sans"').attr("fill","#000");});
      if(opts.rotate){
        ax.selectAll("text").attr("font-size",FSD).attr("text-anchor","middle").attr("y",0).attr("dy",".35em")
          .attr("transform","translate(0,26) rotate(-20)");
      }
      g.append("rect").attr("width",axW).attr("height",h).attr("fill","none").attr("stroke","#000").attr("stroke-width",1.1);
    }};
}
function title(left,rowY,s){
  svg.append("text").attr("x",left+axW/2).attr("y",rowY[0]-8.3).attr("text-anchor","middle").attr("font-size",16.7).text(s);
}
function xlabel(left,y,s,sup){
  const t = svg.append("text").attr("x",left+axW/2).attr("y",y).attr("text-anchor","middle").attr("font-size",FS).text(s);
  if(sup){ t.append("tspan").attr("font-size",FS*.7).attr("dy",-5).text(sup);
           t.append("tspan").attr("dy",5).text(")"); }
}
function ylabel(x,rowY,s,sup){
  const cy=(rowY[0]+rowY[1])/2;
  const t = svg.append("text").attr("transform",`translate(${x},${cy}) rotate(-90)`).attr("text-anchor","middle").attr("font-size",FS).text(s);
  if(sup){ t.append("tspan").attr("font-size",FS*.7).attr("dy",-5).text(sup);
           t.append("tspan").attr("dy",5).text(")"); }
}
function legendBox(x,y,w,h){
  svg.append("rect").attr("x",x).attr("y",y).attr("width",w).attr("height",h).attr("rx",2.5)
     .attr("fill","#fff").attr("fill-opacity",.8).attr("stroke","#ccc").attr("stroke-width",1.1);
}
function legendText(x,y,s){
  svg.append("text").attr("x",x).attr("y",y).attr("dy",".36em").attr("font-size",10.9).attr("fill","#000").text(s);
}

// ---------- MAP ----------
{
  const x = d3.scaleLinear().domain([-180,180]).range([0,axW]);
  const y = d3.scaleLinear().domain([-90,90]).range([row1[1]-row1[0],0]);
  const p = panel(colL,row1,x,y,lonTicks,latTicks,minus,"cMap");
  const line = d3.line().x(d=>x(d[0])).y(d=>y(d[1]));
  p.under.append("rect").attr("width",axW).attr("height",p.h).attr("fill",C.ocean);
  p.under.selectAll("path.land").data(landPolys).join("path").attr("class","land")
    .attr("d",d=>line(d)+"Z").attr("fill",C.land).attr("stroke",C.coast).attr("stroke-width",.8).attr("stroke-linejoin","round");
  p.under.selectAll("path.lake").data(lakePolys).join("path").attr("class","lake")
    .attr("d",d=>line(d)+"Z").attr("fill",C.ocean).attr("stroke",C.coast).attr("stroke-width",.6);
  p.under.selectAll("path.border").data(borderLines).join("path").attr("class","border")
    .attr("d",line).attr("fill","none").attr("stroke",C.border).attr("stroke-width",.7);
  p.grid.selectAll("line.a").data(lonTicks).join("line").attr("class","a").attr("x1",d=>x(d)).attr("x2",d=>x(d)).attr("y1",0).attr("y2",p.h)
    .attr("stroke","#999").attr("stroke-opacity",.45).attr("stroke-width",.7).attr("stroke-dasharray","2.2,2");
  p.grid.selectAll("line.b").data(latTicks).join("line").attr("class","b").attr("x1",0).attr("x2",axW).attr("y1",d=>y(d)).attr("y2",d=>y(d))
    .attr("stroke","#999").attr("stroke-opacity",.45).attr("stroke-width",.7).attr("stroke-dasharray","2.2,2");
  p.body.selectAll("path.t").data(trackSegments).join("path").attr("class","t")
    .attr("d",line).attr("fill","none").attr("stroke",C.track).attr("stroke-width",4.6).attr("stroke-linecap","round").attr("stroke-linejoin","round");
  p.body.append("circle").attr("cx",x(launch[0])).attr("cy",y(launch[1])).attr("r",8).attr("fill",C.launch).attr("stroke","#000").attr("stroke-width",1.4);
  p.body.append("path").attr("transform",`translate(${x(lastFix[0])},${y(lastFix[1])+.8})`)
    .attr("d",d3.symbol(d3.symbolStar,130)).attr("fill",C.star).attr("stroke","#000").attr("stroke-width",1.4);
  p.finish({noGrid:true});
  title(colL,row1,"Flight Track");
  xlabel(colL,379,"Longitude (deg)");
  ylabel(35,row1,"Latitude (deg)");
  // legend
  legendBox(89.7,284,79.5,48.7);
  svg.append("circle").attr("cx",104.3).attr("cy",292.3).attr("r",1.9).attr("fill",C.track);
  svg.append("circle").attr("cx",104.6).attr("cy",308.5).attr("r",8).attr("fill",C.launch).attr("stroke","#000").attr("stroke-width",1.4);
  svg.append("path").attr("transform","translate(104.3,323)").attr("d",d3.symbol(d3.symbolStar,130)).attr("fill",C.star).attr("stroke","#000").attr("stroke-width",1.4);
  legendText(124.5,292.3,"Track");
  legendText(125,308.5,"Launch");
  legendText(124.5,323,"Last fix");
}

// ---------- INFO ----------
svg.selectAll("text.info").data(infoLines).join("text").attr("class","info")
  .attr("x",d=>colR+axW/2+d[4]).attr("y",d=>d[3]).attr("dy",".36em").attr("text-anchor","middle")
  .attr("font-size",d=>d[1]).style("fill",d=>d[2]).text(d=>d[0]);

// ---------- WIND ----------
{
  const x = d3.scaleUtc().domain(xDomain).range([0,axW]);
  const y = d3.scaleLinear().domain([0,55.55]).range([row2[1]-row2[0],0]);
  const p = panel(colL,row2,x,y,dateTicks,windTicks,fmtTick,"cWind");
  const band = bandT.map((t,i)=>[t,bandLo[i],bandHi[i]]);
  p.body.append("path").datum(band)
    .attr("d",d3.area().x(d=>x(dayToDate(d[0]))).y0(d=>y(d[1])).y1(d=>y(d[2])))
    .attr("fill",C.band).attr("fill-opacity",.45);
  p.body.selectAll("circle").data(windPts).join("circle").attr("cx",d=>x(dayToDate(d[0]))).attr("cy",d=>y(d[1])).attr("r",2).attr("fill",C.wind);
  p.body.append("path").datum(meanT.map((t,i)=>[t,windMean[i]]))
    .attr("d",d3.line().x(d=>x(dayToDate(d[0]))).y(d=>y(d[1]))).attr("fill","none").attr("stroke",C.track).attr("stroke-width",1.6);
  p.finish({rotate:true});
  title(colL,row2,"Wind Speed vs. Time");
  ylabel(42,row2,"Wind speed (m s","\u22121");
  legendBox(622,425.7,161,50);
  svg.append("rect").attr("x",625).attr("y",430).attr("width",24).attr("height",9).attr("fill",C.band).attr("fill-opacity",.45);
  svg.append("circle").attr("cx",637.5).attr("cy",450.3).attr("r",2).attr("fill",C.wind);
  svg.append("line").attr("x1",625).attr("x2",649).attr("y1",465).attr("y2",465).attr("stroke",C.track).attr("stroke-width",1.6);
  legendText(657.3,435.3,"\u00b11\u03c3 propagated error");
  legendText(657.3,450.3,"Wind speed");
  legendText(657.3,466,"Daily mean");
}

// ---------- LATITUDE ----------
{
  const x = d3.scaleUtc().domain(latDomain).range([0,axW]);
  const y = d3.scaleLinear().domain([-90,90]).range([row2[1]-row2[0],0]);
  const p = panel(colR,row2,x,y,dateTicks.slice(1),latTicks,fmtTick,"cLat");
  p.body.selectAll("circle").data(latPts).join("circle").attr("cx",d=>x(dayToDate(d[0]))).attr("cy",d=>y(d[1])).attr("r",2.3).attr("fill","#000");
  p.finish({rotate:true});
  title(colR,row2,"Latitude vs. Time");
  ylabel(colR-48,row2,"Latitude (deg)");
}

// ---------- ALTITUDE ----------
{
  const x = d3.scaleUtc().domain(xDomain).range([0,axW]);
  const y = d3.scaleLinear().domain([8716,14100]).range([row3[1]-row3[0],0]);
  const p = panel(colL,row3,x,y,dateTicks,altTicks,fmtTick,"cAlt");
  p.body.selectAll("circle").data(altPts).join("circle").attr("cx",d=>x(dayToDate(d[0]))).attr("cy",d=>y(d[1])).attr("r",2.2).attr("fill",C.alt);
  p.body.append("path").datum(meanT.map((t,i)=>[t,altMean[i]]))
    .attr("d",d3.line().x(d=>x(dayToDate(d[0]))).y(d=>y(d[1]))).attr("fill","none").attr("stroke",C.track).attr("stroke-width",1.6);
  p.finish({rotate:true});
  title(colL,row3,"Balloon Altitude vs. Time");
  xlabel(colL,1177,"UTC date");
  ylabel(21,row3,"Altitude (m AMSL)");
}

// ---------- HISTOGRAM ----------
{
  const x = d3.scaleLinear().domain([-100,100]).range([0,axW]);
  const y = d3.scaleLinear().domain([0,320]).range([row3[1]-row3[0],0]);
  const p = panel(colR,row3,x,y,histXTicks,histYTicks,minus,"cHist");
  const bars = (counts,col)=>{
    p.body.append("g").selectAll("rect").data(counts.map((c,i)=>[binEdges[i],binEdges[i+1],c]).filter(d=>d[2]>0)).join("rect")
      .attr("x",d=>x(d[0])).attr("width",d=>x(d[1])-x(d[0])).attr("y",d=>y(d[2])).attr("height",d=>y(0)-y(d[2]))
      .attr("fill",col).attr("fill-opacity",.65).attr("stroke","#000").attr("stroke-opacity",.65).attr("stroke-width",1.1);
  };
  bars(uCounts,C.u); bars(vCounts,C.v);
  p.finish();
  title(colR,row3,"U and V Wind Components");
  xlabel(colR,1160,"Wind speed (m s","\u22121");
  ylabel(colR-44.6,row3,"Frequency");
  legendBox(1442.7,814.7,119,34);
  [["U (zonal)",C.u,823.3],["V (meridional)",C.v,838.3]].forEach(d=>{
    svg.append("rect").attr("x",1446).attr("y",d[2]-3.6).attr("width",23).attr("height",7.2).attr("fill",d[1]).attr("fill-opacity",.65).attr("stroke","#000").attr("stroke-opacity",.65);
    legendText(1477.6,d[2]+.6,d[0]);
  });
}
</script></body></html>
